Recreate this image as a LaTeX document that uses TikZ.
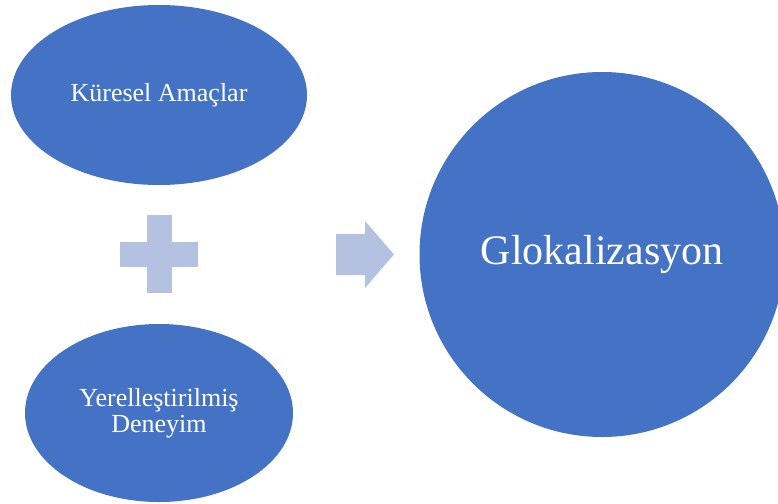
\documentclass[tikz,border=0pt]{standalone}
\usepackage{fontspec}
\setmainfont{Liberation Serif}
\usetikzlibrary{shapes.geometric}
\definecolor{gloBlue}{RGB}{68,114,196}
\definecolor{gloTint}{RGB}{180,193,225}

\begin{document}
\begin{tikzpicture}[x=1pt,y=-1pt,
  blob/.style={ellipse,fill=gloBlue,inner sep=0pt,text=white,align=center,
               font=\fontsize{26}{26}\selectfont}]
\useasboundingbox (0,0) rectangle (778,503);
\clip (0,0) rectangle (778,503);

%─── Inputs: global aims and localised experience ───────────────────────────
\node[blob,minimum width=296pt,minimum height=180pt] (global) at (159,95) {Küresel Amaçlar};
\node[blob,minimum width=268pt,minimum height=178pt] (local) at (159,413) {Yerelleştirilmiş\\Deneyim};

%─── Plus sign ───────────────────────────────────────────────────────────────
\fill[gloTint] (120,242) rectangle (198,267);
\fill[gloTint] (147,215) rectangle (172,293);

%─── Arrow ───────────────────────────────────────────────────────────────────
\fill[gloTint] (336,234) -- (365,234) -- (365,221) -- (394,254.5)
  -- (365,288) -- (365,275) -- (336,275) -- cycle;

%─── Result ──────────────────────────────────────────────────────────────────
\node[blob,circle,minimum size=365pt,font=\fontsize{42}{42}\selectfont] (glocal) at (602,254.5) {Glokalizasyon};

\end{tikzpicture}
\end{document}
